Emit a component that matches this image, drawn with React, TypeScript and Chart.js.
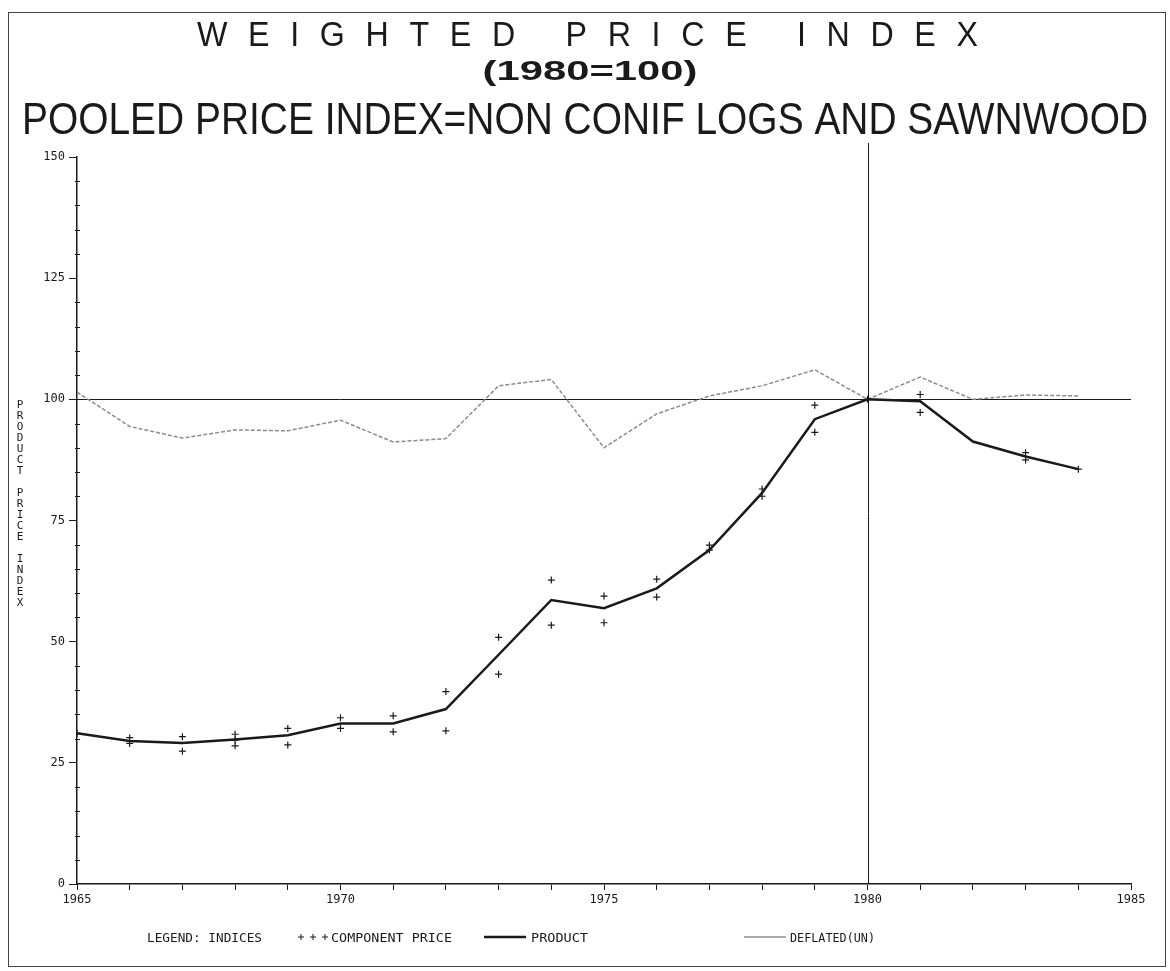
import { useEffect, useRef } from 'react';
import { Chart, registerables } from 'chart.js';

Chart.register(...registerables);

// ---------------- data ----------------
const years = [1965, 1966, 1967, 1968, 1969, 1970, 1971, 1972, 1973, 1974, 1975, 1976, 1977, 1978, 1979, 1980, 1981, 1982, 1983, 1984];
const productIndex = [31.1, 29.5, 29.1, 29.8, 30.7, 33.1, 33.1, 36.1, 47.3, 58.6, 56.9, 61.0, 68.9, 80.7, 95.9, 100, 99.6, 91.3, 88.2, 85.6];
const deflatedIndex = [101.5, 94.4, 92.0, 93.7, 93.5, 95.7, 91.2, 91.9, 102.8, 104.1, 90.0, 97.0, 100.7, 102.8, 106.1, 100, 104.6, 100.0, 100.9, 100.7];
const componentYears = [1965, 1966, 1966, 1967, 1967, 1968, 1968, 1968, 1969, 1969, 1970, 1970, 1971, 1971, 1972, 1972, 1973, 1973, 1974, 1974, 1975, 1975, 1976, 1976, 1977, 1977, 1978, 1978, 1979, 1979, 1980, 1981, 1981, 1983, 1983, 1984];
const componentValues = [31.1, 30.2, 29.0, 30.4, 27.4, 30.9, 29.7, 28.5, 32.1, 28.7, 34.3, 32.1, 34.7, 31.4, 39.7, 31.6, 50.9, 43.3, 62.7, 53.4, 59.4, 53.9, 62.9, 59.2, 69.9, 68.9, 81.5, 80.0, 98.8, 93.2, 100, 101.0, 97.3, 89.0, 87.5, 85.6];

const baseValue = 100;
const baseYear = 1980;
const xMin = 1965;
const xMax = 1985;
const yMin = 0;
const yMax = 150;
const yMajorStep = 25;
const yMinorStep = 5;

const titleLine1 = 'WEIGHTED PRICE INDEX';
const titleLine2 = '(1980=100)';
const titleLine3 = 'POOLED PRICE INDEX=NON CONIF LOGS AND SAWNWOOD';
const yAxisTitle = 'PRODUCT PRICE INDEX';
const legendPrefix = 'LEGEND: INDICES';
const legendComponent = 'COMPONENT PRICE';
const legendProduct = 'PRODUCT';
const legendDeflated = 'DEFLATED(UN)';

const INK = '#1a1a1a';
const GREY = '#8c8c8c';

function fitText(ctx: CanvasRenderingContext2D, text: string, x: number, baseline: number, font: string, targetW: number, align: 'center' | 'left') {
  ctx.save();
  ctx.font = font;
  const w = ctx.measureText(text).width;
  const s = targetW / w;
  ctx.translate(x, baseline);
  ctx.scale(s, 1);
  ctx.textAlign = align;
  ctx.textBaseline = 'alphabetic';
  ctx.fillText(text, 0, 0);
  ctx.restore();
}

function spacedText(ctx: CanvasRenderingContext2D, text: string, x: number, baseline: number, font: string, scaleX: number, targetW: number) {
  ctx.save();
  ctx.font = font;
  const w0 = ctx.measureText(text).width;
  const n = text.length - 1;
  const ls = (targetW / scaleX - w0) / n;
  ctx.translate(x, baseline);
  ctx.scale(scaleX, 1);
  ctx.textAlign = 'left';
  ctx.textBaseline = 'alphabetic';
  let cx = 0;
  for (const c of text) {
    ctx.fillText(c, cx, 0);
    cx += ctx.measureText(c).width + ls;
  }
  ctx.restore();
}

const decorPlugin = {
  id: 'decor',
  beforeDatasetsDraw(chart: any) {
    const ctx: CanvasRenderingContext2D = chart.ctx;
    const { left, right, top, bottom } = chart.chartArea;
    const xs = chart.scales.x;
    const ys = chart.scales.y;
    ctx.save();
    ctx.strokeStyle = INK;
    ctx.lineWidth = 1;
    const y100 = Math.round(ys.getPixelForValue(baseValue)) + 0.5;
    ctx.beginPath();
    ctx.moveTo(left, y100);
    ctx.lineTo(right, y100);
    ctx.stroke();
    const x80 = Math.round(xs.getPixelForValue(baseYear)) + 0.5;
    ctx.beginPath();
    ctx.moveTo(x80, top - 14);
    ctx.lineTo(x80, bottom);
    ctx.stroke();
    ctx.restore();
  },
  afterDraw(chart: any) {
    const ctx: CanvasRenderingContext2D = chart.ctx;
    const ys = chart.scales.y;
    const { left } = chart.chartArea;
    ctx.save();
    // frame
    ctx.strokeStyle = '#444';
    ctx.lineWidth = 1;
    ctx.strokeRect(8.5, 12.5, 1157, 954);

    // minor y ticks
    ctx.strokeStyle = INK;
    ctx.lineWidth = 1;
    for (let v = yMin; v <= yMax; v += yMinorStep) {
      if (v % yMajorStep === 0) continue;
      const py = Math.round(ys.getPixelForValue(v)) + 0.5;
      ctx.beginPath();
      ctx.moveTo(left - 2, py);
      ctx.lineTo(left + 3, py);
      ctx.stroke();
    }

    // titles
    ctx.fillStyle = INK;
    spacedText(ctx, titleLine1, 197, 46, '35px "Liberation Sans", Arial, sans-serif', 0.92, 781);
    fitText(ctx, titleLine2, 590, 80, 'bold 28px "Liberation Sans", Arial, sans-serif', 215, 'center');
    fitText(ctx, titleLine3, 585, 134, '44px "Liberation Sans", Arial, sans-serif', 1126, 'center');

    // stacked y-axis title
    ctx.font = '11px "DejaVu Sans Mono", monospace';
    ctx.textAlign = 'center';
    ctx.textBaseline = 'middle';
    const chars = yAxisTitle.split('');
    chars.forEach((c, i) => {
      if (c !== ' ') ctx.fillText(c, 20, 405 + i * 11);
    });

    // legend
    const ly = 942;
    const lfont = '12px "DejaVu Sans Mono", monospace';
    fitText(ctx, legendPrefix, 147, ly, lfont, 115, 'left');
    ctx.strokeStyle = INK;
    ctx.lineWidth = 1;
    [301, 313, 325].forEach((cx) => {
      ctx.beginPath();
      ctx.moveTo(cx - 3, ly - 5);
      ctx.lineTo(cx + 3, ly - 5);
      ctx.moveTo(cx, ly - 8);
      ctx.lineTo(cx, ly - 2);
      ctx.stroke();
    });
    fitText(ctx, legendComponent, 331, ly, lfont, 121, 'left');
    ctx.strokeStyle = INK;
    ctx.lineWidth = 2.5;
    ctx.beginPath();
    ctx.moveTo(484, ly - 5);
    ctx.lineTo(526, ly - 5);
    ctx.stroke();
    fitText(ctx, legendProduct, 531, ly, lfont, 57, 'left');
    ctx.strokeStyle = GREY;
    ctx.lineWidth = 1.5;
    ctx.beginPath();
    ctx.moveTo(744, ly - 5);
    ctx.lineTo(786, ly - 5);
    ctx.stroke();
    fitText(ctx, legendDeflated, 790, ly, lfont, 85, 'left');
    ctx.restore();
  },
};

export default function App() {
  const ref = useRef<HTMLCanvasElement | null>(null);

  useEffect(() => {
    if (!ref.current) return;
    const chart = new Chart(ref.current, {
      type: 'line',
      data: {
        datasets: [
          {
            label: 'DEFLATED(UN)',
            data: years.map((x, i) => ({ x, y: deflatedIndex[i] })),
            borderColor: GREY,
            borderWidth: 1.5,
            borderDash: [4, 2],
            pointRadius: 0,
            tension: 0,
            order: 3,
          },
          {
            label: 'COMPONENT PRICE',
            data: componentYears.map((x, i) => ({ x, y: componentValues[i] })),
            showLine: false,
            pointStyle: 'cross',
            pointRadius: 3.5,
            pointBorderWidth: 1.2,
            borderColor: INK,
            backgroundColor: INK,
            order: 2,
          },
          {
            label: 'PRODUCT',
            data: years.map((x, i) => ({ x, y: productIndex[i] })),
            borderColor: INK,
            borderWidth: 2.5,
            pointRadius: 0,
            tension: 0,
            order: 1,
          },
        ],
      },
      options: {
        animation: false,
        responsive: false,
        layout: { padding: { left: 32, right: 39, top: 157, bottom: 57 } },
        plugins: {
          legend: { display: false },
          title: { display: false },
          tooltip: { enabled: false },
        },
        scales: {
          x: {
            type: 'linear',
            min: xMin,
            max: xMax,
            afterFit: (s: any) => { s.height = 30; },
            ticks: {
              stepSize: 1,
              autoSkip: false,
              maxRotation: 0,
              padding: 3,
              color: INK,
              font: { family: '"DejaVu Sans Mono", monospace', size: 12 },
              callback: (v: any) => (Number(v) % 5 === 0 ? String(v) : ''),
            },
            grid: { drawOnChartArea: false, drawTicks: true, tickLength: 6, color: INK },
            border: { display: true, color: INK, width: 1.5 },
          },
          y: {
            type: 'linear',
            min: yMin,
            max: yMax,
            afterFit: (s: any) => { s.width = 45; },
            ticks: {
              stepSize: yMajorStep,
              padding: 4,
              color: INK,
              font: { family: '"DejaVu Sans Mono", monospace', size: 12 },
            },
            grid: { drawOnChartArea: false, drawTicks: true, tickLength: 8, color: INK },
            border: { display: true, color: INK, width: 1.5 },
          },
        },
      },
      plugins: [decorPlugin],
    });
    return () => chart.destroy();
  }, []);

  return (
    <div style={{ position: 'absolute', left: 0, top: 0, width: 1170, height: 971, background: '#fff' }}>
      <canvas ref={ref} width={1170} height={971} style={{ display: 'block' }} />
    </div>
  );
}
